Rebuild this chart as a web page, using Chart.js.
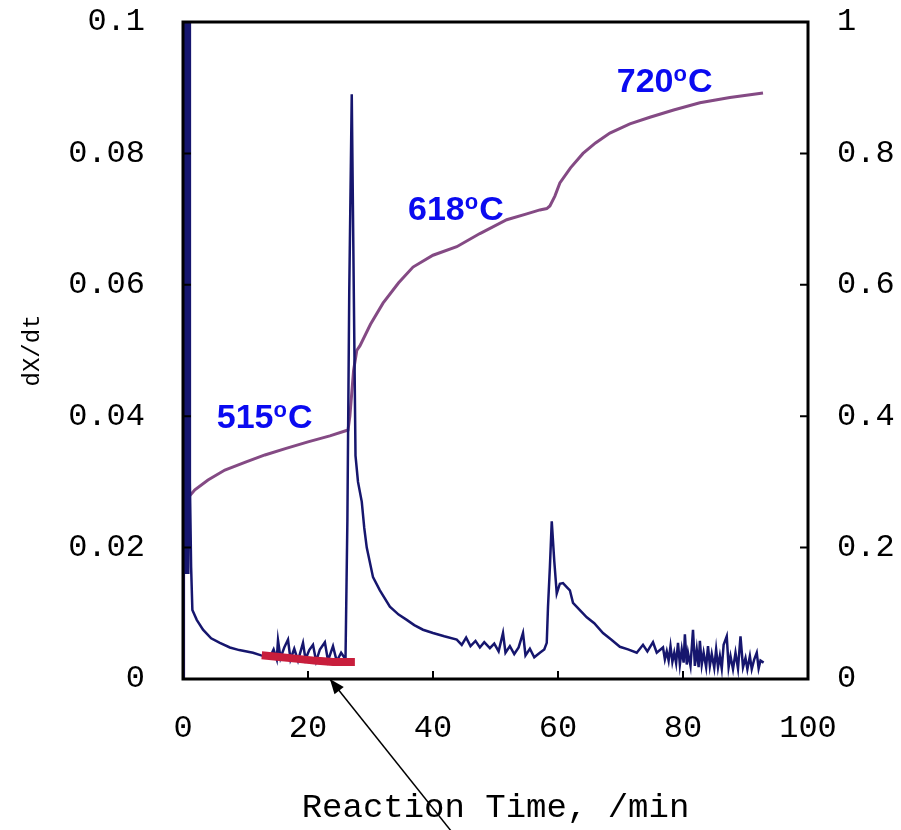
<!DOCTYPE html>
<html>
<head>
<meta charset="utf-8">
<script src="https://cdn.jsdelivr.net/npm/chart.js@4"></script>
<style>
  body { margin: 0; background: #ffffff; }
  #chart { display: block; }
</style>
</head>
<body>
<canvas id="chart" width="901" height="830"></canvas>
<script>
// dX/dt (left axis)
const rateTime = [0, 0.1, 0.25, 0.4, 0.55, 0.7, 0.85, 1.0, 1.1, 1.3, 1.5, 2.2, 3.2, 4.5, 5.9, 7.5, 9.0, 11.2, 12.5, 13.9,
  14.5, 15.0, 15.2, 15.6, 16.2, 16.8, 17.2, 17.8, 18.4, 19.2, 19.6, 20.2, 20.8, 21.3, 21.9, 22.7,
  23.2, 24.0, 24.6, 25.3, 26.0, 26.3, 26.6, 27.0, 27.6, 28.0, 28.6, 29.0, 29.4, 30.4, 31.5, 33.1,
  34.5, 35.8, 37.0, 38.4, 40.0, 41.8, 43.8, 44.6, 45.3, 46.0, 46.8, 47.5, 48.2, 49.1, 49.8, 50.5,
  51.2, 51.6, 52.3, 53.0, 53.7, 54.4, 54.8, 55.5, 56.2, 57.1, 57.8, 58.2, 58.4, 58.7, 59.0, 59.4,
  59.8, 60.3, 60.8, 61.4, 61.9, 62.4, 63.5, 64.6, 65.8, 67.2, 68.5, 69.9, 71.2, 72.6, 73.6, 74.3,
  75.2, 75.8, 76.8, 77.1, 77.4, 77.7, 78.0, 78.3, 78.6, 78.9, 79.2, 79.5, 79.8, 80.1, 80.3, 80.6,
  80.8, 81.2, 81.6, 81.9, 82.2, 82.5, 82.7, 83.0, 83.3, 83.7, 84.0, 84.3, 84.6, 85.0, 85.3, 85.6,
  85.9, 86.2, 86.5, 87.0, 87.3, 87.6, 88.0, 88.4, 88.8, 89.2, 89.6, 90.0, 90.3, 90.7, 91.0, 91.4,
  91.8, 92.1, 92.4, 92.9];
const rateValue = [0, 0.30, 0.016, 0.30, 0.016, 0.30, 0.016, 0.30, 0.030, 0.017, 0.0105, 0.0090, 0.0075, 0.0062, 0.0055, 0.0048, 0.0044, 0.0040, 0.0036, 0.0033,
  0.0045, 0.0030, 0.0059, 0.0032, 0.0048, 0.0060, 0.0030, 0.0046, 0.0028, 0.0055, 0.0030, 0.0044, 0.0052, 0.0027, 0.0045, 0.0056,
  0.0028, 0.0050, 0.0027, 0.0040, 0.0030, 0.0240, 0.0590, 0.0890, 0.0340, 0.0300, 0.0270, 0.0230, 0.0200, 0.0155, 0.0135, 0.0110,
  0.0098, 0.0090, 0.0082, 0.0075, 0.0070, 0.0065, 0.0060, 0.0052, 0.0063, 0.0050, 0.0058, 0.0048, 0.0056, 0.0047, 0.0054, 0.0042,
  0.0070, 0.0040, 0.0050, 0.0038, 0.0048, 0.0070, 0.0036, 0.0046, 0.0033, 0.0040, 0.0045, 0.0055, 0.0110, 0.0170, 0.0240, 0.0180,
  0.0130, 0.0145, 0.0146, 0.0140, 0.0135, 0.0116, 0.0105, 0.0094, 0.0085, 0.0070, 0.0060, 0.0049, 0.0045, 0.0040, 0.0052, 0.0042,
  0.0056, 0.0040, 0.0048, 0.0030, 0.0042, 0.0028, 0.0050, 0.0026, 0.0040, 0.0024, 0.0055, 0.0022, 0.0045, 0.0025, 0.0068, 0.0022,
  0.0040, 0.0020, 0.0075, 0.0020, 0.0045, 0.0018, 0.0058, 0.0022, 0.0040, 0.0018, 0.0050, 0.0020, 0.0038, 0.0017, 0.0045, 0.0018,
  0.0035, 0.0016, 0.0052, 0.0065, 0.0018, 0.0035, 0.0015, 0.0040, 0.0016, 0.0065, 0.0018, 0.0032, 0.0015, 0.0035, 0.0015, 0.0030,
  0.0040, 0.0016, 0.0028, 0.0025];

// red band near the baseline (left axis)
const redTime = [12.6, 15.0, 18.0, 21.0, 24.0, 27.5];
const redValue = [0.0036, 0.0034, 0.0031, 0.0028, 0.0026, 0.0026];

// conversion X (right axis)
const convTime = [0, 0.1, 0.4, 1.0, 1.9, 4, 6.7, 10, 13.1, 16.5, 20, 23.5, 26.4, 26.7, 27.3, 27.8, 28.3, 30, 32,
  34.5, 36.8, 40, 43.8, 47.5, 51.8, 55, 57.1, 58.2, 58.7, 59.5, 60.3, 62, 64, 66, 68.3, 71.5, 74.7,
  78.5, 82.7, 87.5, 92.8];
const convValue = [0, 0.20, 0.265, 0.278, 0.288, 0.303, 0.318, 0.330, 0.341, 0.351, 0.361, 0.370, 0.379, 0.40, 0.47, 0.50, 0.507, 0.540, 0.572,
  0.603, 0.627, 0.645, 0.658, 0.678, 0.699, 0.708, 0.714, 0.716, 0.720, 0.735, 0.755, 0.778, 0.80, 0.816, 0.831, 0.845, 0.855,
  0.866, 0.877, 0.885, 0.892];

// temperature labels: [text, time, conversion]
const tempLabels = [["515", 5.4, 0.382], ["618", 36.0, 0.699], ["720", 69.4, 0.893]];

const xTicks = [0, 20, 40, 60, 80, 100];

const toPoints = (xs, ys) => xs.map((x, i) => ({x: x, y: ys[i]}));
const fmt = v => String(Number(v.toFixed(2)));

// frame, inward ticks, temperature labels and the arrow
const decorPlugin = {
  id: 'decor',
  afterDatasetsDraw(chart) {
    const ctx = chart.ctx;
    const a = chart.chartArea;
    const sx = chart.scales.x, sy = chart.scales.y, sy1 = chart.scales.y1;
    ctx.save();
    ctx.strokeStyle = '#000';
    ctx.lineWidth = 3;
    ctx.strokeRect(a.left, a.top, a.right - a.left, a.bottom - a.top);
    ctx.lineWidth = 2;
    ctx.beginPath();
    sy.ticks.forEach(t => { const p = sy.getPixelForValue(t.value); ctx.moveTo(a.left, p); ctx.lineTo(a.left + 8, p); });
    sy1.ticks.forEach(t => { const p = sy1.getPixelForValue(t.value); ctx.moveTo(a.right, p); ctx.lineTo(a.right - 8, p); });
    sx.ticks.forEach(t => { const p = sx.getPixelForValue(t.value); ctx.moveTo(p, a.bottom); ctx.lineTo(p, a.bottom - 8); });
    ctx.stroke();

    ctx.fillStyle = '#0a0af0';
    ctx.textBaseline = 'alphabetic';
    ctx.textAlign = 'left';
    tempLabels.forEach(([txt, t, v]) => {
      let px = sx.getPixelForValue(t);
      const py = sy1.getPixelForValue(v);
      ctx.font = 'bold 34px "Liberation Sans", Arial, sans-serif';
      ctx.fillText(txt, px, py);
      px += ctx.measureText(txt).width;
      ctx.font = 'bold 22px "Liberation Sans", Arial, sans-serif';
      ctx.fillText('o', px, py - 11);
      px += ctx.measureText('o').width + 1;
      ctx.font = 'bold 34px "Liberation Sans", Arial, sans-serif';
      ctx.fillText('C', px, py);
    });

    // arrow pointing at the red band
    const tipX = sx.getPixelForValue(23.5), tipY = sy.getPixelForValue(0);
    const tailX = sx.getPixelForValue(43.2), tailY = sy.getPixelForValue(-0.0235);
    ctx.strokeStyle = '#000';
    ctx.lineWidth = 1.5;
    ctx.beginPath();
    ctx.moveTo(tailX, tailY);
    ctx.lineTo(tipX, tipY);
    ctx.stroke();
    const ang = Math.atan2(tipY - tailY, tipX - tailX);
    const len = 16, half = 0.38;
    ctx.fillStyle = '#000';
    ctx.beginPath();
    ctx.moveTo(tipX, tipY);
    ctx.lineTo(tipX - len * Math.cos(ang - half), tipY - len * Math.sin(ang - half));
    ctx.lineTo(tipX - len * Math.cos(ang + half), tipY - len * Math.sin(ang + half));
    ctx.closePath();
    ctx.fill();
    ctx.restore();
  }
};

const monoTicks = {family: '"Liberation Mono", "DejaVu Sans Mono", monospace', size: 32};
// invisible tick marks only used to push the labels away from the axes
const hiddenGrid = len => ({display: true, drawOnChartArea: false, drawTicks: true, tickLength: len, color: 'rgba(0,0,0,0)'});

new Chart(document.getElementById('chart').getContext('2d'), {
  type: 'line',
  data: {
    datasets: [
      {
        label: 'red',
        data: toPoints(redTime, redValue),
        borderColor: '#c81e3c',
        borderWidth: 8,
        pointRadius: 0,
        tension: 0,
        yAxisID: 'y'
      },
      {
        label: 'dX/dt',
        data: toPoints(rateTime, rateValue),
        borderColor: '#16166e',
        borderWidth: 2.5,
        pointRadius: 0,
        tension: 0,
        yAxisID: 'y'
      },
      {
        label: 'X',
        data: toPoints(convTime, convValue),
        borderColor: '#844a84',
        borderWidth: 3,
        pointRadius: 0,
        tension: 0,
        yAxisID: 'y1'
      }
    ]
  },
  options: {
    responsive: false,
    animation: false,
    layout: {padding: {top: 22, left: 0, right: 0, bottom: 0}},
    plugins: {legend: {display: false}, tooltip: {enabled: false}},
    scales: {
      x: {
        type: 'linear',
        min: 0, max: 100,
        afterBuildTicks: s => { s.ticks = xTicks.map(v => ({value: v})); },
        afterFit: s => { s.height = 151; },
        grid: hiddenGrid(28),
        border: {display: false},
        ticks: {color: '#000', font: monoTicks, padding: 2, maxRotation: 0, callback: v => String(v)},
        title: {display: true, text: 'Reaction Time, /min', color: '#000',
          font: {family: '"Liberation Mono", "DejaVu Sans Mono", monospace', size: 34}, padding: {top: 0, bottom: 2}}
      },
      y: {
        position: 'left',
        min: 0, max: 0.1,
        afterFit: s => { s.width = 183; },
        grid: hiddenGrid(36),
        border: {display: false},
        ticks: {stepSize: 0.02, color: '#000', font: monoTicks, padding: 2, callback: v => fmt(v)},
        title: {display: true, text: 'dX/dt', color: '#000',
          font: {family: '"Liberation Mono", "DejaVu Sans Mono", monospace', size: 24}, padding: {top: 18, bottom: 0}}
      },
      y1: {
        position: 'right',
        min: 0, max: 1,
        afterFit: s => { s.width = 93; },
        grid: hiddenGrid(27),
        border: {display: false},
        ticks: {stepSize: 0.2, color: '#000', font: monoTicks, padding: 2, callback: v => fmt(v)}
      }
    }
  },
  plugins: [decorPlugin]
});
</script>
</body>
</html>
